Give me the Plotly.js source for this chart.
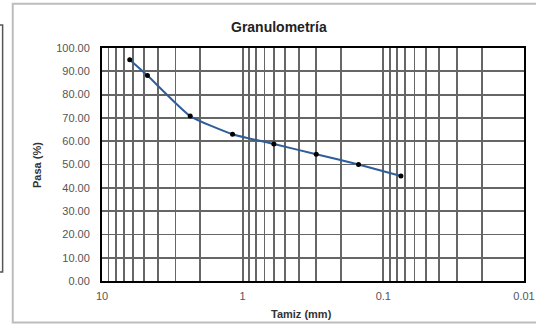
<!DOCTYPE html>
<html>
<head>
<meta charset="utf-8">
<script src="https://cdn.plot.ly/plotly-3.0.1.min.js"></script>
<style>html,body{margin:0;padding:0;background:#fff;}#chart{width:536px;height:326px;}</style>
</head>
<body>
<div id="chart"></div>
<script>
// Sieve opening (mm) and percent passing
const tamiz = [6.35, 4.75, 2.36, 1.18, 0.60, 0.30, 0.15, 0.075];
const pasa = [95.0, 88.2, 70.8, 63.0, 58.8, 54.4, 50.0, 45.1];

// Log grid tick positions and labels
const xTickVals = [10, 9, 8, 7, 6, 5, 4, 3, 2,
                   1, 0.9, 0.8, 0.7, 0.6, 0.5, 0.4, 0.3, 0.2,
                   0.1, 0.09, 0.08, 0.07, 0.06, 0.05, 0.04, 0.03, 0.02, 0.01];
const xTickText = ["10", "", "", "", "", "", "", "", "",
                   "1", "", "", "", "", "", "", "", "",
                   "0.1", "", "", "", "", "", "", "", "", "0.01"];
const yTickVals = [0, 10, 20, 30, 40, 50, 60, 70, 80, 90, 100];

const trace = {
  x: tamiz, y: pasa, type: 'scatter', mode: 'lines+markers',
  line: {color: '#2f5d9a', width: 2, shape: 'spline', smoothing: 0.5},
  marker: {color: '#000', size: 5},
  hoverinfo: 'skip', showlegend: false
};

const F = 'Liberation Sans, Arial, sans-serif';
const layout = {
  width: 536, height: 326,
  margin: {l: 102, r: 12, t: 48, b: 45},
  paper_bgcolor: '#fff', plot_bgcolor: '#fff',
  font: {family: F, size: 11, color: '#444'},
  xaxis: {
    type: 'log', range: [1, -2], tickmode: 'array',
    tickvals: xTickVals, ticktext: xTickText,
    showgrid: true, gridcolor: '#666666', gridwidth: 1.8,
    showline: true, linecolor: '#000', linewidth: 2, mirror: true,
    ticks: '', ticklabelstandoff: 4, zeroline: false,
    tickfont: {family: F, size: 11, color: '#555'}
  },
  yaxis: {
    range: [0, 100], tickmode: 'array', tickvals: yTickVals,
    tickformat: '.2f',
    showgrid: true, gridcolor: '#666666', gridwidth: 1.8,
    showline: true, linecolor: '#000', linewidth: 2, mirror: true,
    ticks: '', ticklabelstandoff: 8, zeroline: false,
    tickfont: {family: F, size: 11, color: '#555'}
  },
  annotations: [
    {text: '<b>Granulometría</b>', xref: 'paper', yref: 'paper', x: 0.419, y: 1.09,
     showarrow: false, xanchor: 'center', yanchor: 'middle', font: {family: F, size: 14, color: '#222'}},
    {text: '<b>Tamiz (mm)</b>', xref: 'paper', yref: 'paper', x: 0.473, y: -0.142,
     showarrow: false, xanchor: 'center', yanchor: 'middle', font: {family: F, size: 11, color: '#333'}},
    {text: '<b>Pasa (%)</b>', xref: 'paper', yref: 'paper', x: -0.154, y: 0.498, textangle: -90,
     showarrow: false, xanchor: 'center', yanchor: 'middle', font: {family: F, size: 11, color: '#333'}}
  ],
  shapes: [
    {type: 'rect', xref: 'paper', yref: 'paper', x0: -0.2115, x1: 1.06, y0: -0.178, y1: 1.19,
     line: {color: '#bdbdbd', width: 2}, layer: 'below'},
    {type: 'rect', xref: 'paper', yref: 'paper', x0: -0.245, x1: -0.2355, y0: 0.0386, y1: 1.0987,
     line: {color: '#555', width: 1.5}, layer: 'below'}
  ]
};

Plotly.newPlot('chart', [trace], layout, {staticPlot: true, displayModeBar: false});
</script>
</body>
</html>
